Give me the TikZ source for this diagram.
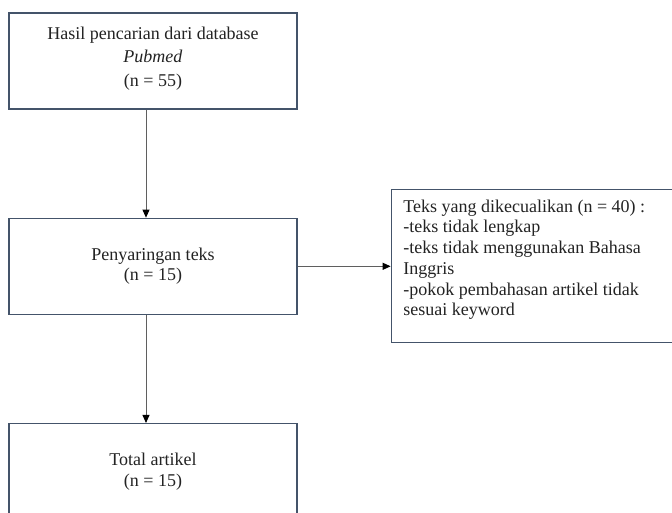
\documentclass[tikz,border=0pt]{standalone}
\usepackage{fontspec}
\setmainfont{Liberation Serif}
\usetikzlibrary{positioning,arrows.meta}
\definecolor{BoxSlate}{RGB}{68,84,106}
\definecolor{LineGrey}{RGB}{95,95,95}
\definecolor{InkGrey}{RGB}{35,35,35}

\begin{document}
\begin{tikzpicture}[
x=1pt, y=-1pt,
font=\fontsize{18pt}{20.7pt}\selectfont,
text=InkGrey,
box/.style={draw=BoxSlate, line width=1.3pt, align=center, minimum width=288pt, minimum height=96pt, inner sep=4pt, fill=white},
note/.style={draw=BoxSlate, line width=1.3pt, inner xsep=12pt, inner ysep=10pt, fill=white},
arr/.style={-{Triangle[width=7pt,length=8pt,color=black]}, line width=0.9pt, draw=LineGrey}
]
\useasboundingbox (0,0) rectangle (672,512);
\fill[white] (0,0) rectangle (672,512);
\clip (0,0) rectangle (672,512);
\node[box] (search) at (153,61) {Hasil pencarian dari database\\[3pt] \textit{Pubmed}\\[3pt] (n = 55)\rule[-9pt]{0pt}{9pt}};
\node[box, below=108pt of search] (screen) {Penyaringan teks\\(n = 15)};
\node[box, below=108pt of screen] (total) {Total artikel\\(n = 15)};
\node[note, right=93pt of screen] (excl) {\begin{minipage}[t][133pt][t]{275pt}\raggedright
Teks yang dikecualikan (n = 40) :\\
-teks tidak lengkap\\
-teks tidak menggunakan Bahasa\\
Inggris\\
-pokok pembahasan artikel tidak\\
sesuai keyword
\end{minipage}};

\draw[arr] ([xshift=-7pt]search.south) -- ([xshift=-7pt]screen.north);
\draw[arr] ([xshift=-7pt]screen.south) -- ([xshift=-7pt]total.north);
\draw[arr] (screen.east) -- (screen.east -| excl.west);
\end{tikzpicture}
\end{document}
